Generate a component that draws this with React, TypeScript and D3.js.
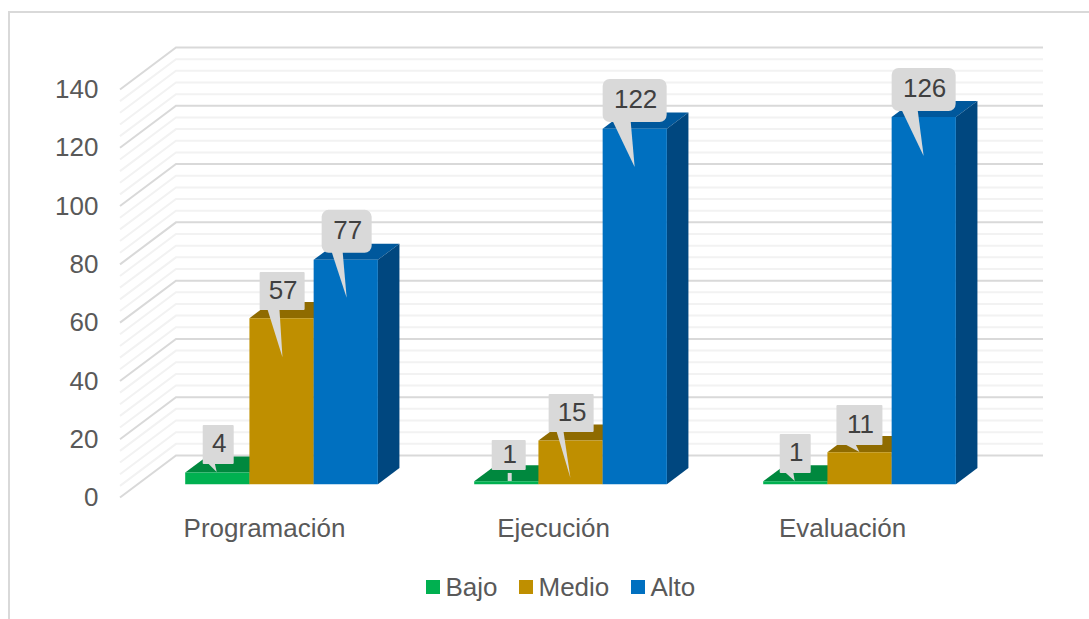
import React from "react";
import * as d3 from "d3";

const WIDTH = 1089;
const HEIGHT = 619;

const categories = ["Programación", "Ejecución", "Evaluación"];
const seriesNames = ["Bajo", "Medio", "Alto"];
const bajo = [4, 1, 1];
const medio = [57, 15, 11];
const alto = [77, 122, 126];
const seriesValues = [bajo, medio, alto];

const frontColors = ["#00B050", "#BF8F00", "#0070C0"];
const topColors = ["#00883E", "#8F6B00", "#00589C"];
const sideColors = ["#006F33", "#745700", "#00477F"];

const majorTicks = d3.range(0, 141, 20);
const gridTicks = d3.range(0, 141, 4);

// Floor and walls of the 3D box
const AXIS_LEFT = 120;
const AXIS_RIGHT = 987;
const FRONT_ZERO = 497.5;
const FRONT_TOP = 89.5;
const DEPTH_X = 56;
const DEPTH_Y = 42;
const BAR_Z0 = 0.315;
const BAR_Z1 = 0.7;
const BAR_NUDGE = -0.6;

const FONT = "'Liberation Sans', Arial, sans-serif";
const FONT_SIZE = 26;

const yScale = d3.scaleLinear().domain([0, 140]).range([FRONT_ZERO, FRONT_TOP]);
const groupScale = d3
  .scaleBand<number>()
  .domain(d3.range(categories.length))
  .range([AXIS_LEFT, AXIS_RIGHT])
  .paddingInner(1 / 3)
  .paddingOuter(1 / 6);
const seriesScale = d3
  .scaleBand<number>()
  .domain(d3.range(seriesNames.length))
  .range([0, groupScale.bandwidth()]);

const project = (x: number, value: number, z: number): [number, number] => [
  x + DEPTH_X * z,
  yScale(value) - DEPTH_Y * z,
];

const polygon = d3.line().curve(d3.curveLinearClosed);

type Callout = {
  box: [number, number, number, number];
  radius: number;
  tail: [number, number][];
};

// Callout geometry, relative to the top-left front corner of its bar
const bajoCallouts: Callout[] = [
  { box: [17.5, -47.6, 31, 39], radius: 1, tail: [[22.5, -9.6], [29.5, -9.6], [31.5, -0.6]] },
  { box: [17.5, -41.4, 34, 30], radius: 1, tail: [[33.5, -8.4], [37.5, -8.4], [37.5, -0.4], [33.5, -0.4]] },
  { box: [16.5, -47.4, 31, 39], radius: 1, tail: [[21.5, -9.4], [30, -9.4], [31.5, -0.4]] },
];
const medioCallouts: Callout[] = [
  { box: [10.2, -46.1, 45, 38], radius: 1, tail: [[18, -9], [30, -9], [33, 39]] },
  { box: [10.2, -46.6, 45, 38], radius: 1, tail: [[18, -9.6], [25, -9.6], [32, 37.4]] },
  { box: [9, -47.2, 46, 40], radius: 1, tail: [[17, -8.2], [28, -8.2], [32, -0.2]] },
];
const altoCallouts: Callout[] = [
  { box: [8, -50, 50, 43], radius: 7, tail: [[18, -8], [29, -8], [33, 38]] },
  { box: [0, -49.7, 64, 43], radius: 7, tail: [[10, -7.7], [28, -7.7], [32, 38.3]] },
  { box: [0, -49, 64, 43], radius: 7, tail: [[10, -7], [26, -7], [32, 39]] },
];
const calloutsBySeries = [bajoCallouts, medioCallouts, altoCallouts];

const legendSwatchX = [426, 519, 631];

export default function App() {
  const bars = seriesNames.flatMap((_, s) =>
    categories.map((_, c) => {
      const x0 = (groupScale(c) as number) + (seriesScale(s) as number) + BAR_NUDGE;
      const x1 = x0 + seriesScale.bandwidth();
      const value = seriesValues[s][c];
      const a = project(x0, value, BAR_Z0);
      const b = project(x1, value, BAR_Z0);
      const d = project(x1, 0, BAR_Z0);
      const e = project(x0, 0, BAR_Z0);
      const a2 = project(x0, value, BAR_Z1);
      const b2 = project(x1, value, BAR_Z1);
      const d2 = project(x1, 0, BAR_Z1);
      return {
        key: `${s}-${c}`,
        s,
        c,
        value,
        anchor: a,
        front: polygon([a, b, d, e]) as string,
        top: polygon([a, a2, b2, b]) as string,
        side: polygon([b, b2, d2, d]) as string,
      };
    })
  );

  return (
    <svg
      width={WIDTH}
      height={HEIGHT}
      viewBox={`0 0 ${WIDTH} ${HEIGHT}`}
      style={{ position: "absolute", left: 0, top: 0, background: "#fff" }}
      fontFamily={FONT}
    >
      {/* chart frame, running past the page on the right and bottom */}
      <rect x={9} y={12} width={WIDTH + 20} height={HEIGHT + 20} fill="#fff" stroke="#D9D9D9" strokeWidth={2} />

      {/* side wall and back wall gridlines */}
      {gridTicks.map((t) => {
        const isMajor = t % 20 === 0;
        const p0 = project(AXIS_LEFT, t, 0);
        const p1 = project(AXIS_LEFT, t, 1);
        const p2 = project(AXIS_RIGHT, t, 1);
        return (
          <path
            key={t}
            d={d3.line()([p0, p1, p2]) as string}
            fill="none"
            stroke={isMajor ? "#D9D9D9" : "#F2F2F2"}
            strokeWidth={2}
          />
        );
      })}

      {/* y axis labels */}
      {majorTicks.map((t) => (
        <text
          key={t}
          x={98.5}
          y={yScale(t) - 0.5}
          dy="0.35em"
          textAnchor="end"
          fontSize={FONT_SIZE}
          fill="#595959"
        >
          {t}
        </text>
      ))}

      {/* bars */}
      {categories.map((_, c) =>
        bars
          .filter((b) => b.c === c)
          .map((b) => (
            <g key={b.key}>
              <path d={b.top} fill={topColors[b.s]} />
              <path d={b.side} fill={sideColors[b.s]} />
              <path d={b.front} fill={frontColors[b.s]} />
            </g>
          ))
      )}

      {/* value callouts */}
      {bars.map((b) => {
        const callout = calloutsBySeries[b.s][b.c];
        const [ax, ay] = b.anchor;
        const [dx, dy, w, h] = callout.box;
        const points = callout.tail.map(([px, py]) => [ax + px, ay + py] as [number, number]);
        return (
          <g key={`callout-${b.key}`}>
            <path d={polygon(points) as string} fill="#D9D9D9" />
            <rect x={ax + dx} y={ay + dy} width={w} height={h} rx={callout.radius} fill="#D9D9D9" />
            <text
              x={ax + dx + w / 2 + 1}
              y={ay + dy + h / 2 - 1.5}
              dy="0.35em"
              textAnchor="middle"
              fontSize={FONT_SIZE}
              fill="#404040"
            >
              {b.value}
            </text>
          </g>
        );
      })}

      {/* category labels */}
      {categories.map((name, c) => (
        <text
          key={name}
          x={(groupScale(c) as number) + groupScale.bandwidth() / 2}
          y={537}
          textAnchor="middle"
          fontSize={FONT_SIZE}
          fill="#595959"
        >
          {name}
        </text>
      ))}

      {/* legend */}
      {seriesNames.map((name, s) => (
        <g key={name}>
          <rect x={legendSwatchX[s]} y={580} width={14} height={14} fill={frontColors[s]} />
          <text x={legendSwatchX[s] + 19.5} y={596} fontSize={FONT_SIZE} fill="#595959">
            {name}
          </text>
        </g>
      ))}
    </svg>
  );
}
